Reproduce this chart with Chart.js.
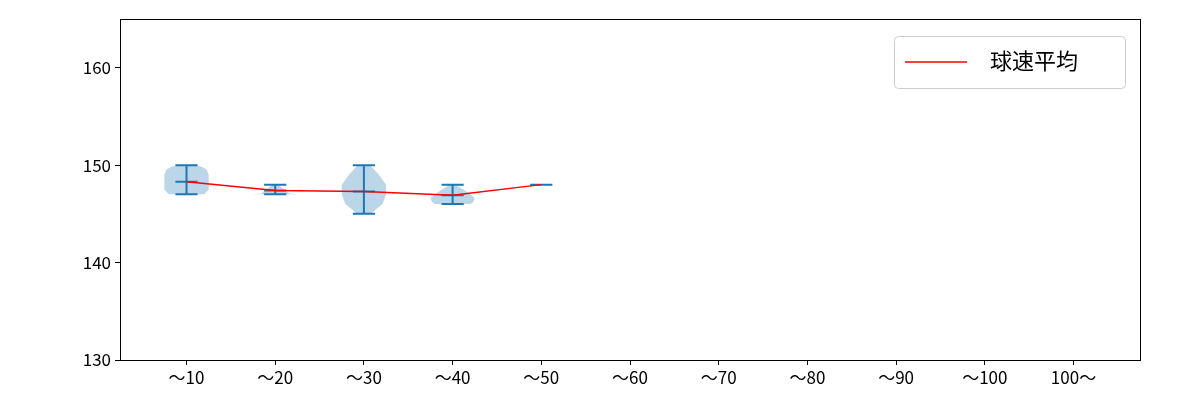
<!DOCTYPE html>
<html>
<head>
<meta charset="utf-8">
<script src="https://cdn.jsdelivr.net/npm/chart.js@4"></script>
<style>body{margin:0;background:#fff}#wrap{width:1200px;height:400px}</style>
</head>
<body>
<div id="wrap"><canvas id="c" width="1200" height="400"></canvas></div>
<script>
const categories = ['〜10','〜20','〜30','〜40','〜50','〜60','〜70','〜80','〜90','〜100','100〜'];
const meanSpeed = [148.3, 147.4, 147.3, 146.9, 148.0];
const minSpeed = [147, 147, 145, 146, 148];
const maxSpeed = [150, 148, 150, 148, 148];
// violin outlines: speed levels and half-widths (category units)
const violinLevels = [
  [147, 147.5, 148, 148.5, 149, 149.5, 149.8, 150],
  [147, 147.1, 147.5, 147.8, 148],
  [145, 145.5, 146, 147, 148, 149, 149.5, 150],
  [146, 146.2, 146.6, 147, 147.5, 148],
  [148]
];
const violinWidths = [
  [0.2, 0.25, 0.25, 0.25, 0.25, 0.23, 0.18, 0.1],
  [0.25, 0.16, 0.1, 0.06, 0.03],
  [0.08, 0.14, 0.21, 0.25, 0.25, 0.17, 0.12, 0.07],
  [0.2, 0.23, 0.25, 0.2, 0.12, 0.03],
  [0]
];
const yTicks = [130, 140, 150, 160];
const FONT = '"Noto Sans CJK JP", "DejaVu Sans", sans-serif';

const violinPlugin = {
  id: 'violins',
  beforeDatasetsDraw(chart) {
    const { ctx, scales: { x, y } } = chart;
    ctx.save();
    violinLevels.forEach((lv, i) => {
      const w = violinWidths[i];
      if (lv.length < 2) return;
      ctx.beginPath();
      lv.forEach((v, k) => {
        const px = x.getPixelForValue(i + w[k]), py = y.getPixelForValue(v);
        k ? ctx.lineTo(px, py) : ctx.moveTo(px, py);
      });
      for (let k = lv.length - 1; k >= 0; k--) {
        ctx.lineTo(x.getPixelForValue(i - w[k]), y.getPixelForValue(lv[k]));
      }
      ctx.closePath();
      ctx.fillStyle = 'rgba(31,119,180,0.3)';
      ctx.fill();
    });
    ctx.strokeStyle = '#1f77b4';
    ctx.lineWidth = 2;
    minSpeed.forEach((mn, i) => {
      const cx = x.getPixelForValue(i);
      const cw = x.getPixelForValue(i + 0.125) - cx;
      const y0 = y.getPixelForValue(mn), y1 = y.getPixelForValue(maxSpeed[i]), ym = y.getPixelForValue(meanSpeed[i]);
      ctx.beginPath();
      ctx.moveTo(cx, y0); ctx.lineTo(cx, y1);
      [y0, y1, ym].forEach(yy => { ctx.moveTo(cx - cw, yy); ctx.lineTo(cx + cw, yy); });
      ctx.stroke();
    });
    ctx.restore();
  },
  afterDraw(chart) {
    const { ctx, chartArea: a } = chart;
    ctx.save();
    ctx.strokeStyle = '#000';
    ctx.lineWidth = 1;
    ctx.strokeRect(a.left + 0.5, a.top + 0.5, a.right - a.left, a.bottom - a.top);
    // legend
    const lx = 894, ly = 36, lw = 231, lh = 52;
    ctx.strokeStyle = '#ccc';
    ctx.fillStyle = 'rgba(255,255,255,0.8)';
    ctx.beginPath();
    ctx.roundRect(lx + 0.5, ly + 0.5, lw, lh, 4);
    ctx.fill(); ctx.stroke();
    ctx.strokeStyle = 'red'; ctx.lineWidth = 1.5;
    ctx.beginPath(); ctx.moveTo(905, 62); ctx.lineTo(967, 62); ctx.stroke();
    ctx.fillStyle = '#000';
    ctx.font = '22px ' + FONT;
    ctx.textBaseline = 'middle';
    ctx.fillText('球速平均', 990, 61);
    ctx.restore();
  }
};

new Chart(document.getElementById('c'), {
  type: 'line',
  data: {
    datasets: [{
      label: '球速平均',
      data: meanSpeed.map((v, i) => ({ x: i, y: v })),
      borderColor: 'red',
      borderWidth: 1.5,
      pointRadius: 0,
      tension: 0
    }]
  },
  options: {
    responsive: false,
    animation: false,
    layout: { padding: { left: 0, right: 60, top: 19, bottom: 0 } },
    plugins: { legend: { display: false }, tooltip: { enabled: false } },
    scales: {
      x: {
        type: 'linear', min: -0.75, max: 10.75,
        afterBuildTicks: s => { s.ticks = categories.map((_, i) => ({ value: i })); },
        afterFit: s => { s.height = 40; },
        ticks: { callback: v => categories[v], color: '#000', font: { size: 17, family: FONT }, padding: 2, maxRotation: 0, autoSkip: false },
        grid: { drawOnChartArea: false, tickLength: 5, color: '#000' },
        border: { display: false }
      },
      y: {
        min: 130, max: 165,
        afterBuildTicks: s => { s.ticks = yTicks.map(v => ({ value: v })); },
        afterFit: s => { s.width = 120; },
        ticks: { color: '#000', font: { size: 17, family: FONT }, padding: 4 },
        grid: { drawOnChartArea: false, tickLength: 5, color: '#000' },
        border: { display: false }
      }
    }
  },
  plugins: [violinPlugin]
});
</script>
</body>
</html>
